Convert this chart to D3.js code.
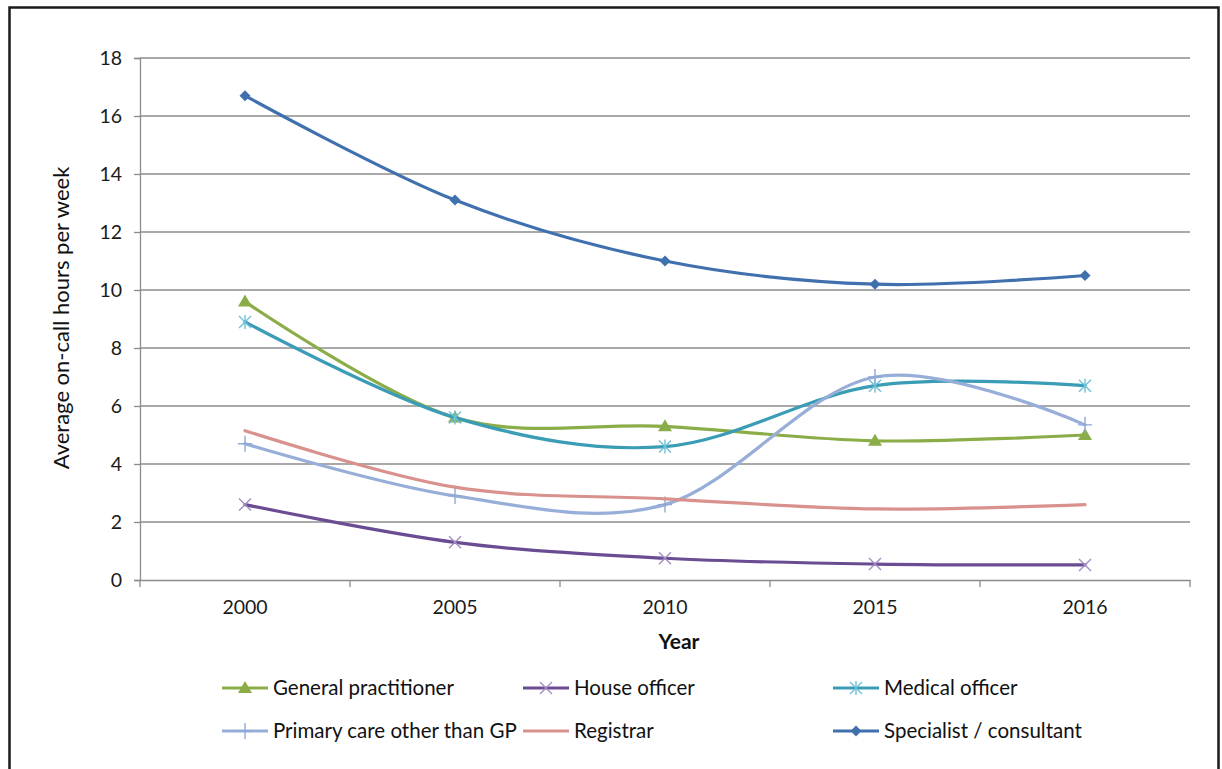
<!DOCTYPE html>
<html>
<head>
<meta charset="utf-8">
<script src="https://cdn.jsdelivr.net/npm/d3@7"></script>
<style>
  html, body { margin: 0; padding: 0; background: #fff; }
  svg { display: block; }
  text { font-family: Lato, "Open Sans", sans-serif; }
</style>
</head>
<body>
<svg id="chart" width="1222" height="769"></svg>
<script>
const years = ["2000", "2005", "2010", "2015", "2016"];
const yTicks = [0, 2, 4, 6, 8, 10, 12, 14, 16, 18];

const generalPractitioner = [9.6, 5.6, 5.3, 4.8, 5.0];
const houseOfficer        = [2.6, 1.3, 0.75, 0.55, 0.52];
const medicalOfficer      = [8.9, 5.6, 4.6, 6.7, 6.7];
const primaryCareOther    = [4.7, 2.9, 2.6, 7.0, 5.35];
const registrar           = [5.15, 3.2, 2.8, 2.45, 2.6];
const specialist          = [16.7, 13.1, 11.0, 10.2, 10.5];

const seriesNames = ["General practitioner", "House officer", "Medical officer",
                     "Primary care other than GP", "Registrar", "Specialist / consultant"];
const seriesValues = [generalPractitioner, houseOfficer, medicalOfficer,
                      primaryCareOther, registrar, specialist];

const lineColors   = ["#8BAD48", "#6A4C93", "#3A9DB5", "#97AED8", "#D9918D", "#4170AF"];
const markerColors = ["#8BAD48", "#A38CC4", "#6DC0D8", "#8FA8D6", "#D9918D", "#4170AF"];
const markerTypes  = ["triangle", "x", "asterisk", "plus", "none", "diamond"];

const svg = d3.select("#chart");

// frame
svg.append("rect").attr("x", 9.5).attr("y", 7.5).attr("width", 1209).attr("height", 775)
  .attr("fill", "none").attr("stroke", "#1a1a1a").attr("stroke-width", 2.5);

const plot = { left: 140, right: 1190, top: 58, bottom: 580 };

const x = d3.scaleBand().domain(years).range([plot.left, plot.right]).paddingInner(0).paddingOuter(0);
const y = d3.scaleLinear().domain([0, 18]).range([plot.bottom, plot.top]);

// gridlines
svg.append("g").selectAll("line").data(yTicks.filter(d => d > 0)).join("line")
  .attr("x1", plot.left).attr("x2", plot.right)
  .attr("y1", d => y(d)).attr("y2", d => y(d))
  .attr("stroke", "#8c8c8c").attr("stroke-width", 1.3);

// y axis
const yAxis = svg.append("g").attr("transform", `translate(${plot.left},0)`)
  .call(d3.axisLeft(y).tickValues(yTicks).tickSize(6).tickPadding(12).tickFormat(d3.format("d")));
yAxis.select(".domain").attr("stroke", "#8c8c8c").attr("stroke-width", 1.3);
yAxis.selectAll(".tick line").attr("stroke", "#8c8c8c").attr("stroke-width", 1.3);
yAxis.selectAll(".tick text").attr("fill", "#1a1a1a").style("font-size", "19.5px")
  .style("font-family", "Lato, sans-serif");

// x axis
const xAxis = svg.append("g").attr("transform", `translate(0,${plot.bottom})`)
  .call(d3.axisBottom(x).tickSize(0).tickPadding(20));
xAxis.select(".domain").attr("stroke", "#8c8c8c").attr("stroke-width", 1.3);
xAxis.selectAll(".tick text").attr("fill", "#1a1a1a").style("font-size", "19.5px")
  .style("font-family", "Lato, sans-serif");
// category boundary ticks
const bounds = years.map(d => x(d)).concat([x(years[years.length - 1]) + x.bandwidth()]);
svg.append("g").selectAll("line").data(bounds).join("line")
  .attr("x1", d => d).attr("x2", d => d)
  .attr("y1", plot.bottom).attr("y2", plot.bottom + 7)
  .attr("stroke", "#8c8c8c").attr("stroke-width", 1.3);

// axis titles
svg.append("text").attr("transform", `translate(69,${(plot.top + plot.bottom) / 2 - 1}) rotate(-90)`)
  .attr("text-anchor", "middle").style("font-size", "22px").attr("fill", "#111")
  .text("Average on-call hours per week");
svg.append("text").attr("x", (plot.left + plot.right) / 2 + 14).attr("y", 649)
  .attr("text-anchor", "middle").style("font-size", "21px").style("font-weight", "bold").attr("fill", "#111")
  .text("Year");

const cx = d => x(d) + x.bandwidth() / 2;
const line = d3.line().x(d => cx(d.year)).y(d => y(d.value)).curve(d3.curveCardinal.tension(0));

function drawMarker(g, type, color, px, py) {
  if (type === "triangle") {
    g.append("path").attr("d", `M${px},${py - 7}L${px + 7},${py + 5}L${px - 7},${py + 5}Z`).attr("fill", color);
  } else if (type === "diamond") {
    g.append("path").attr("d", `M${px},${py - 5.5}L${px + 5.5},${py}L${px},${py + 5.5}L${px - 5.5},${py}Z`).attr("fill", color);
  } else if (type === "x") {
    g.append("path").attr("d", `M${px - 6},${py - 6}L${px + 6},${py + 6}M${px - 6},${py + 6}L${px + 6},${py - 6}`)
      .attr("stroke", color).attr("stroke-width", 1.4).attr("fill", "none");
  } else if (type === "asterisk") {
    g.append("path").attr("d", `M${px - 6},${py - 6}L${px + 6},${py + 6}M${px - 6},${py + 6}L${px + 6},${py - 6}M${px},${py - 7}L${px},${py + 7}`)
      .attr("stroke", color).attr("stroke-width", 1.4).attr("fill", "none");
  } else if (type === "plus") {
    g.append("path").attr("d", `M${px - 7},${py}L${px + 7},${py}M${px},${py - 8}L${px},${py + 8}`)
      .attr("stroke", color).attr("stroke-width", 1.4).attr("fill", "none");
  }
}

// series (draw in order)
seriesValues.forEach((vals, i) => {
  const pts = years.map((yr, j) => ({ year: yr, value: vals[j] }));
  const g = svg.append("g");
  g.append("path").datum(pts).attr("d", line)
    .attr("fill", "none").attr("stroke", lineColors[i]).attr("stroke-width", 3.2)
    .attr("stroke-linecap", "round");
  pts.forEach(p => drawMarker(g, markerTypes[i], markerColors[i], cx(p.year), y(p.value)));
});

// legend
const legendPos = [[222, 688], [523, 688], [833, 688], [222, 731], [523, 731], [833, 731]];
seriesNames.forEach((name, i) => {
  const [lx, ly] = legendPos[i];
  const g = svg.append("g");
  g.append("line").attr("x1", lx).attr("x2", lx + 46).attr("y1", ly).attr("y2", ly)
    .attr("stroke", lineColors[i]).attr("stroke-width", 3.2);
  drawMarker(g, markerTypes[i], markerColors[i], lx + 23, ly);
  g.append("text").attr("x", lx + 51).attr("y", ly + 7).style("font-size", "20.5px").attr("fill", "#111")
    .text(name);
});
</script>
</body>
</html>
